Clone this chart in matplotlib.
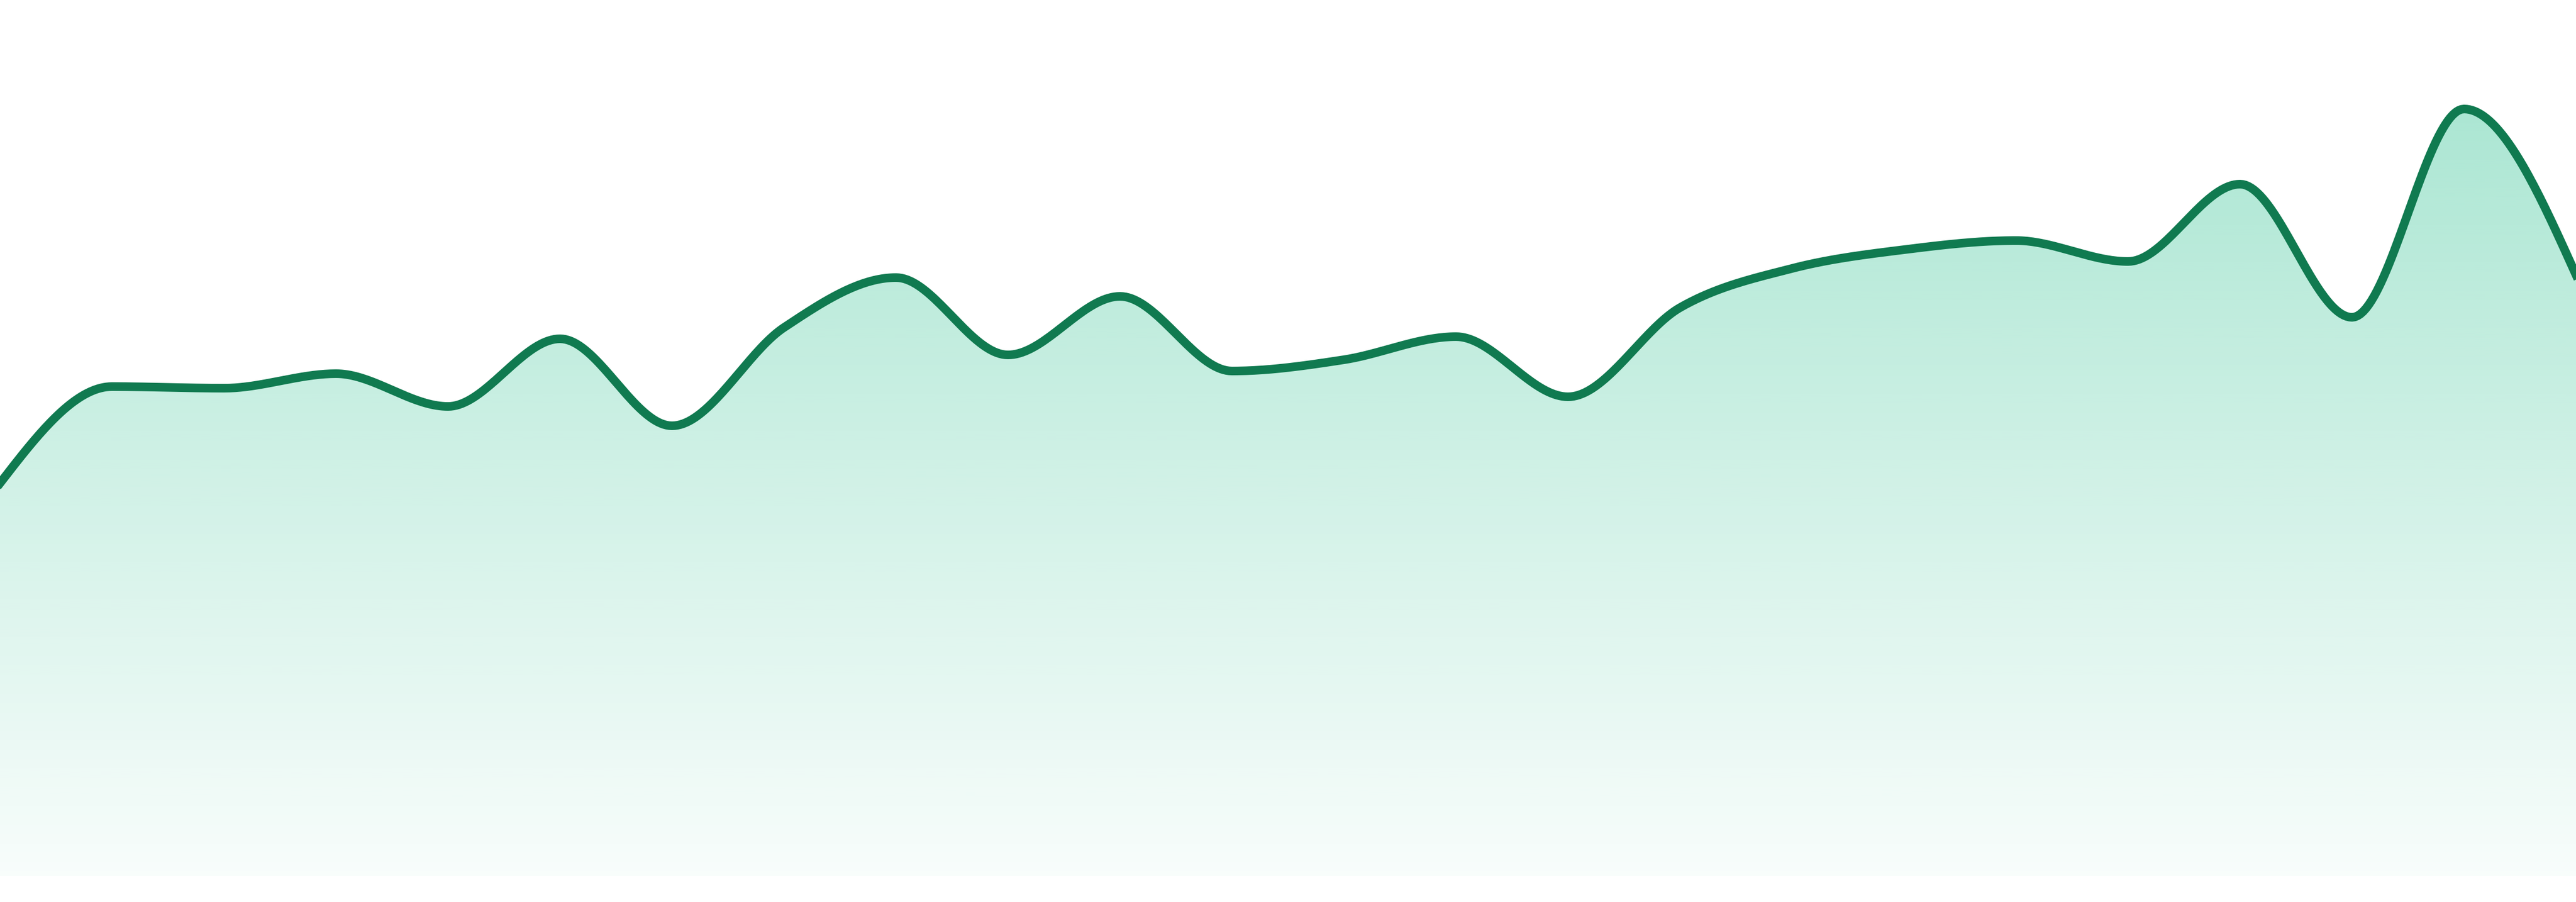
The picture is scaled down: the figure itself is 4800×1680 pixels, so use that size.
import matplotlib
matplotlib.use("Agg")
import matplotlib.pyplot as plt
import numpy as np
from matplotlib.colors import to_rgb

# series (arbitrary units, 0 = bottom of the fill)
values = [73.2, 91.2, 90.9, 93.6, 87.5, 100.1, 83.9, 102.2, 111.5, 97.1, 108.0, 94.1,
          96.2, 100.5, 89.3, 105.9, 113.2, 116.7, 118.4, 114.5, 128.9, 104.1, 142.9, 112.0]
index = list(range(len(values)))

LINE = "#107a50"
FILL = "#10b981"


def monotone_x(x, y, n=40):
    # same shape as d3.curveMonotoneX (Steffen)
    x = np.asarray(x, float)
    y = np.asarray(y, float)
    h = np.diff(x)
    s = np.diff(y) / h
    t = np.zeros_like(y)
    for i in range(1, len(y) - 1):
        h0, h1, s0, s1 = h[i - 1], h[i], s[i - 1], s[i]
        p = (s0 * h1 + s1 * h0) / (h0 + h1)
        t[i] = (np.sign(s0) + np.sign(s1)) * min(abs(s0), abs(s1), 0.5 * abs(p))
    t[0] = (3 * s[0] - t[1]) / 2
    t[-1] = (3 * s[-1] - t[-2]) / 2
    xs, ys = [], []
    for i in range(len(y) - 1):
        u = np.linspace(0, 1, n, endpoint=False)
        h00 = 2 * u**3 - 3 * u**2 + 1
        h10 = u**3 - 2 * u**2 + u
        h01 = -2 * u**3 + 3 * u**2
        h11 = u**3 - u**2
        xs.append(x[i] + u * h[i])
        ys.append(h00 * y[i] + h10 * h[i] * t[i] + h01 * y[i + 1] + h11 * h[i] * t[i + 1])
    xs.append([x[-1]])
    ys.append([y[-1]])
    return np.concatenate(xs), np.concatenate(ys)


fig = plt.figure(figsize=(16, 5.6), dpi=300)
ax = fig.add_axes([0, 0, 1, 1])
ax.set_xlim(0, len(values) - 1)
ax.set_ylim(-4.8, 163.2)
ax.axis("off")

xs, ys = monotone_x(index, values)

# gradient fill under the curve
top = ys.max()
rgb = np.array(to_rgb(FILL))
grad = np.zeros((256, 1, 4))
grad[:, 0, :3] = rgb
grad[:, 0, 3] = np.linspace(0.35, 0.03, 256)
poly = ax.fill_between(xs, ys, 0, color="none", lw=0)
img = ax.imshow(grad, extent=[0, len(values) - 1, 0, top], aspect="auto",
                origin="upper", interpolation="bicubic", zorder=1)
img.set_clip_path(poly.get_paths()[0], transform=ax.transData)

ax.plot(xs, ys, color=LINE, lw=3.85, solid_joinstyle="round", zorder=3)

fig.savefig("out.png", dpi=300)
